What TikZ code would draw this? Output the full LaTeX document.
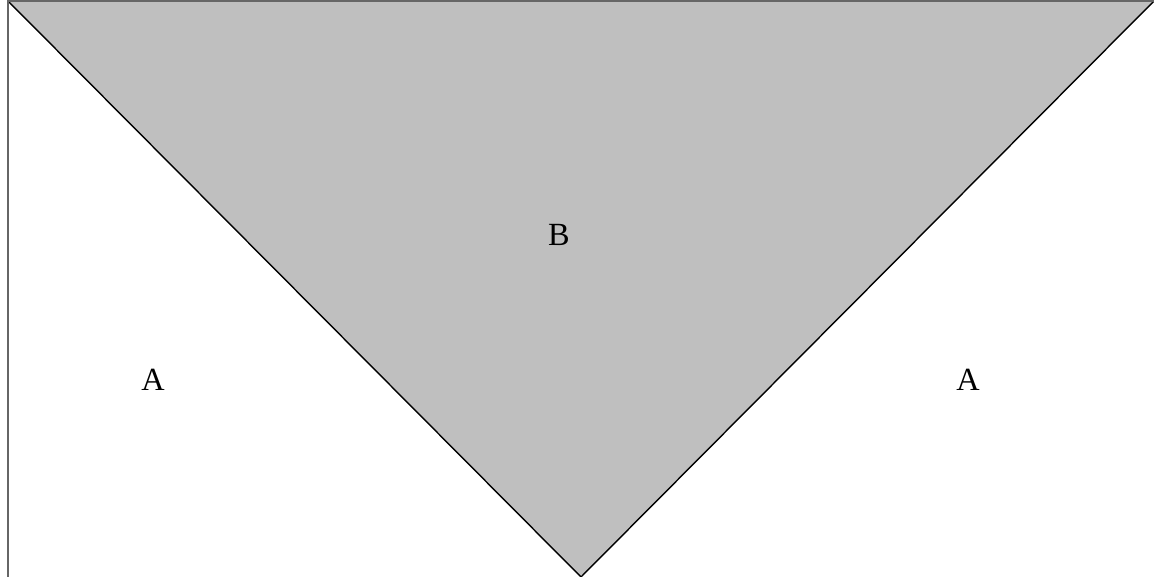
\documentclass[tikz,border=0pt]{standalone}
\usepackage{fontspec}
\setmainfont{Liberation Serif}
\begin{document}
\begin{tikzpicture}[
  region/.style={font=\fontsize{9.2}{11}\selectfont},
  cadre/.style={draw=gray!80!black,line width=0.45pt}
]
\useasboundingbox (0,0) rectangle (11.54,5.77);

% Sommets
\coordinate (hg) at (0.08,5.76);
\coordinate (hd) at (11.54,5.76);
\coordinate (bas) at (5.81,0);
\coordinate (bg) at (0.08,0);

% Triangle B
\fill[gray!50] (hg) -- (hd) -- (bas) -- cycle;
\draw[line width=0.4pt] (hg) -- (bas) -- (hd);

% Cadre
\draw[cadre] (bg) -- (hg) -- (hd);

\node[region] (b) at (5.59,3.42) {B};
\node[region] (a1) at (1.53,1.97) {A};
\node[region] (a2) at (9.68,1.97) {A};

\end{tikzpicture}
\end{document}
